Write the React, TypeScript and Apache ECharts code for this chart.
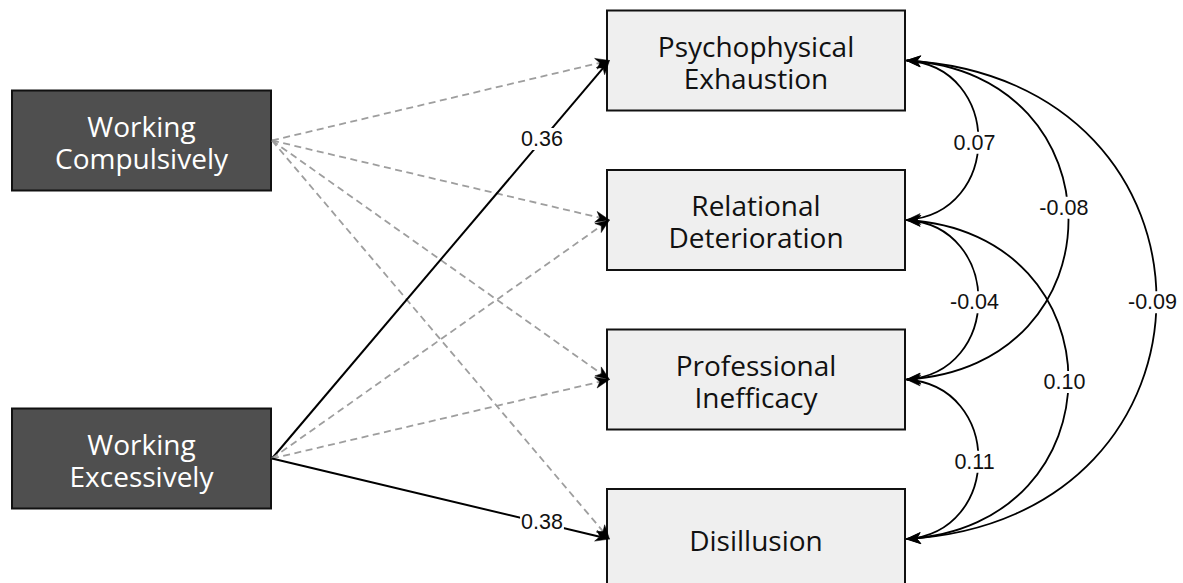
import React, { useEffect, useRef } from "react";
import * as echarts from "echarts";

// ---------- data ----------
const predictors = ["Working\nCompulsively", "Working\nExcessively"];
const outcomes = [
  "Psychophysical\nExhaustion",
  "Relational\nDeterioration",
  "Professional\nInefficacy",
  "Disillusion",
];
// regression paths: predictor -> outcome (null = non-significant, drawn dashed, no label)
const pathSource = [0, 0, 0, 0, 1, 1, 1, 1];
const pathTarget = [0, 1, 2, 3, 0, 1, 2, 3];
const pathCoef: (number | null)[] = [null, null, null, null, 0.36, null, null, 0.38];
// covariances between outcomes
const covFrom = [0, 1, 2, 0, 1, 0];
const covTo = [1, 2, 3, 2, 3, 3];
const covValue = [0.07, -0.04, 0.11, -0.08, 0.1, -0.09];

// ---------- layout (axis units == pixels) ----------
const W = 1183;
const H = 583;
const PRED_X0 = 12;
const PRED_X1 = 271;
const OUT_X0 = 607;
const OUT_X1 = 905;
const BOX_H = 100;
const PRED_CY = [140.5, 458.5];
const OUT_CY = [60.5, 220, 379.5, 539];
const COV_BULGE = [72, 162, 250];
const COV_LABEL_T = [0.5, 0.5, 0.5, 0.468, 0.5, 0.5];
const PATH_LABEL_T = 0.8;

const fmt = (v: number) => v.toFixed(2);

function arrowHead(tip: number[], ux: number, uy: number, color: string) {
  const L = 14;
  const hw = 5.5;
  const notch = 4;
  const nx = -uy;
  const ny = ux;
  const bx = tip[0] - ux * L;
  const by = tip[1] - uy * L;
  return {
    type: "polygon",
    shape: {
      points: [
        [tip[0], tip[1]],
        [bx + nx * hw, by + ny * hw],
        [tip[0] - ux * (L - notch), tip[1] - uy * (L - notch)],
        [bx - nx * hw, by - ny * hw],
      ],
    },
    style: { fill: color, stroke: color, lineWidth: 0.5 },
  };
}

function labelEl(x: number, y: number, text: string) {
  return {
    type: "text",
    x,
    y,
    z2: 10,
    style: {
      text,
      fill: "#111",
      fontSize: 21.5,
      fontFamily: "'Liberation Sans', Arial, sans-serif",
      align: "center",
      verticalAlign: "middle",
      backgroundColor: "#ffffff",
      padding: [0, 1],
    },
  };
}

export default function App() {
  const ref = useRef<HTMLDivElement>(null);

  useEffect(() => {
    document.body.style.margin = "0";
    if (!ref.current) return;
    const chart = echarts.init(ref.current, null, { renderer: "svg" });

    const boxData = [
      ...predictors.map((_, i) => [0, i]),
      ...outcomes.map((_, i) => [1, i]),
    ];

    const option: any = {
      animation: false,
      backgroundColor: "#ffffff",
      grid: { left: 0, right: 0, top: 0, bottom: 0 },
      xAxis: { type: "value", min: 0, max: W, show: false },
      yAxis: { type: "value", min: 0, max: H, inverse: true, show: false },
      series: [
        {
          type: "custom",
          name: "paths",
          z: 2,
          data: pathSource.map((_, i) => [i, 0]),
          renderItem: (params: any, api: any) => {
            const i = params.dataIndex;
            const s = api.coord([PRED_X1 + 1, PRED_CY[pathSource[i]]]);
            const t = api.coord([OUT_X0 + 2.5, OUT_CY[pathTarget[i]]]);
            const coef = pathCoef[i];
            const sig = coef !== null && coef !== undefined;
            const dx = t[0] - s[0];
            const dy = t[1] - s[1];
            const len = Math.sqrt(dx * dx + dy * dy);
            const ux = dx / len;
            const uy = dy / len;
            const color = sig ? "#000000" : "#9e9e9e";
            const children: any[] = [
              {
                type: "line",
                shape: { x1: s[0], y1: s[1], x2: t[0] - ux * 10, y2: t[1] - uy * 10 },
                style: {
                  stroke: color,
                  lineWidth: sig ? 2 : 1.8,
                  lineDash: sig ? null : [7, 4.5],
                },
              },
              arrowHead(t, ux, uy, "#000000"),
            ];
            if (sig) {
              children.push(
                labelEl(s[0] + dx * PATH_LABEL_T, s[1] + dy * PATH_LABEL_T - 1, fmt(coef as number))
              );
            }
            return { type: "group", children };
          },
        },
        {
          type: "custom",
          name: "boxes",
          z: 1,
          data: boxData,
          renderItem: (params: any, api: any) => {
            const kind = boxData[params.dataIndex][0];
            const i = boxData[params.dataIndex][1];
            const x0 = kind === 0 ? PRED_X0 : OUT_X0;
            const x1 = kind === 0 ? PRED_X1 : OUT_X1;
            const cy = kind === 0 ? PRED_CY[i] : OUT_CY[i];
            const p0 = api.coord([x0, cy - BOX_H / 2]);
            const p1 = api.coord([x1, cy + BOX_H / 2]);
            const text = kind === 0 ? predictors[i] : outcomes[i];
            return {
              type: "group",
              children: [
                {
                  type: "rect",
                  shape: { x: p0[0], y: p0[1], width: p1[0] - p0[0], height: p1[1] - p0[1] },
                  style: {
                    fill: kind === 0 ? "#4f4f4f" : "#efefef",
                    stroke: "#111111",
                    lineWidth: 2,
                  },
                },
                {
                  type: "text",
                  x: (p0[0] + p1[0]) / 2,
                  y: (p0[1] + p1[1]) / 2 + 1,
                  style: {
                    text,
                    fill: kind === 0 ? "#ffffff" : "#111111",
                    fontSize: 28,
                    fontFamily: "'Open Sans', 'Noto Sans', sans-serif",
                    lineHeight: 32,
                    align: "center",
                    verticalAlign: "middle",
                  },
                },
              ],
            };
          },
        },
        {
          type: "custom",
          name: "covariances",
          z: 3,
          data: covValue.map((_, i) => [i, 0]),
          renderItem: (params: any, api: any) => {
            const i = params.dataIndex;
            const a = covFrom[i];
            const b = covTo[i];
            const y0 = OUT_CY[a];
            const y1 = OUT_CY[b];
            const h = y1 - y0;
            const bulge = COV_BULGE[b - a - 1];
            const d = bulge / 0.75;
            const tilt = 0.04 * h;
            const X = OUT_X1 + 1.5;
            const P0 = api.coord([X, y0]);
            const P1 = api.coord([X + d, y0 + tilt]);
            const P2 = api.coord([X + d, y1 - tilt]);
            const P3 = api.coord([X, y1]);
            const tt = COV_LABEL_T[i];
            const m = 1 - tt;
            const bx =
              m * m * m * P0[0] + 3 * m * m * tt * P1[0] + 3 * m * tt * tt * P2[0] + tt * tt * tt * P3[0];
            const by =
              m * m * m * P0[1] + 3 * m * m * tt * P1[1] + 3 * m * tt * tt * P2[1] + tt * tt * tt * P3[1];
            const u0x = P0[0] - P1[0];
            const u0y = P0[1] - P1[1];
            const l0 = Math.sqrt(u0x * u0x + u0y * u0y);
            const u3x = P3[0] - P2[0];
            const u3y = P3[1] - P2[1];
            const l3 = Math.sqrt(u3x * u3x + u3y * u3y);
            return {
              type: "group",
              children: [
                {
                  type: "bezierCurve",
                  shape: {
                    x1: P0[0],
                    y1: P0[1],
                    cpx1: P1[0],
                    cpy1: P1[1],
                    cpx2: P2[0],
                    cpy2: P2[1],
                    x2: P3[0],
                    y2: P3[1],
                  },
                  style: { stroke: "#000000", lineWidth: 1.8, fill: null },
                },
                arrowHead(P0, u0x / l0, u0y / l0, "#000000"),
                arrowHead(P3, u3x / l3, u3y / l3, "#000000"),
                labelEl(bx - 4, by + 2.5, fmt(covValue[i])),
              ],
            };
          },
        },
      ],
    };

    chart.setOption(option);
    return () => chart.dispose();
  }, []);

  return <div ref={ref} style={{ width: W, height: H }} />;
}
